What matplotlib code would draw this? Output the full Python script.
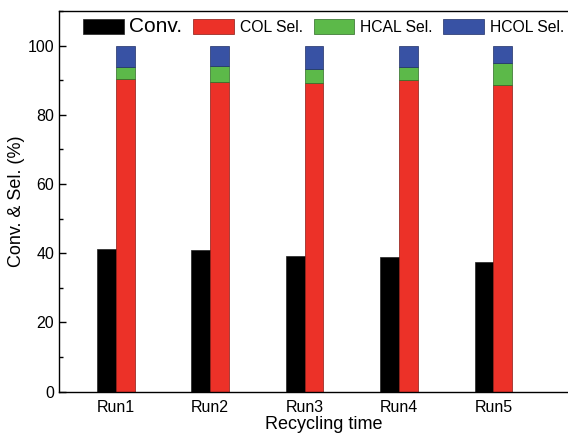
import matplotlib.pyplot as plt
from matplotlib.patches import Patch
from matplotlib.ticker import MultipleLocator
import numpy as np

plt.rcParams['font.family'] = ['Liberation Sans', 'DejaVu Sans']

runs = ["Run1", "Run2", "Run3", "Run4", "Run5"]
conv = [41.2, 40.9, 39.3, 38.8, 37.6]
col_sel = [90.4, 89.4, 89.2, 90.1, 88.5]
hcal_sel = [3.5, 4.8, 4.1, 3.8, 6.4]
hcol_sel = [6.1, 5.8, 6.7, 6.1, 5.1]

c_conv = "#000000"
c_col = "#ec3128"
c_hcal = "#5cb949"
c_hcol = "#3852a4"

fig = plt.figure(figsize=(5.68, 4.33), dpi=100)
# axes run past the right edge, like the cropped original
ax = fig.add_axes([0.104, 0.0954, 0.931, 0.879])

x = np.arange(1, len(runs) + 1)
w = 0.2
ax.bar(x - w / 2, conv, w, color=c_conv, edgecolor="#222222", lw=0.5)
ax.bar(x + w / 2, col_sel, w, color=c_col, edgecolor="#8a1a12", lw=0.5)
bot = np.array(col_sel)
ax.bar(x + w / 2, hcal_sel, w, bottom=bot, color=c_hcal, edgecolor="#2e6a25", lw=0.5)
bot = bot + np.array(hcal_sel)
ax.bar(x + w / 2, hcol_sel, w, bottom=bot, color=c_hcol, edgecolor="#1f2f66", lw=0.5)

ax.set_xlim(0.4, 6.0)
ax.set_ylim(0, 110)
ax.set_xticks(x)
ax.set_xticklabels(runs, fontsize=11.5)
ax.tick_params(axis="x", length=0, pad=6)
ax.yaxis.set_major_locator(MultipleLocator(20))
ax.yaxis.set_minor_locator(MultipleLocator(10))
ax.tick_params(axis="y", which="major", direction="in", length=5, width=1, labelsize=11.5)
ax.tick_params(axis="y", which="minor", direction="in", length=3, width=1)
for s in ax.spines.values():
    s.set_linewidth(1.0)
ax.spines["right"].set_visible(False)

ax.set_xlabel("Recycling time", fontsize=13, labelpad=1)
ax.set_ylabel("Conv. & Sel. (%)", fontsize=13, labelpad=2)

handles = [Patch(facecolor=c_conv, edgecolor="#222222", lw=0.5),
           Patch(facecolor=c_col, edgecolor="#8a1a12", lw=0.5),
           Patch(facecolor=c_hcal, edgecolor="#2e6a25", lw=0.5),
           Patch(facecolor=c_hcol, edgecolor="#1f2f66", lw=0.5)]
labels = ["Conv.", "COL Sel.", "HCAL Sel.", "HCOL Sel."]
leg = ax.legend(handles, labels, ncol=4, loc="upper left",
                bbox_to_anchor=(0.045, 0.985), frameon=False, fontsize=11.3,
                handlelength=2.6, handleheight=1.05, handletextpad=0.35,
                columnspacing=0.7, borderpad=0, borderaxespad=0)
leg.get_texts()[0].set_fontsize(15)

fig.savefig("out.png", dpi=100)
